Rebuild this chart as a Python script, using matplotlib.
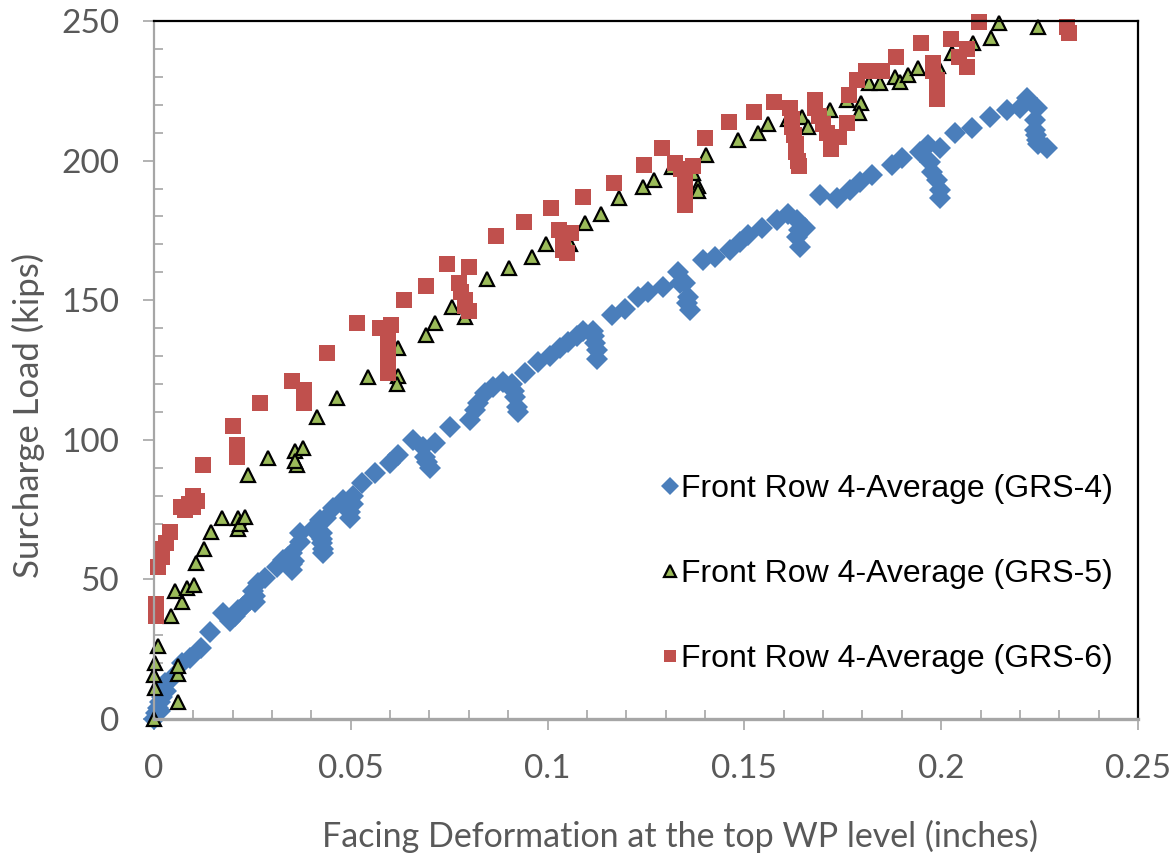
import numpy as np
import matplotlib
matplotlib.use("Agg")
import matplotlib.pyplot as plt
from matplotlib.ticker import MultipleLocator

# -----------------------------------------------------------------------------
# data (deformation in inches, load in kips)

grs4_x = [0.000, 0.0005, 0.001, 0.0015, 0.002, 0.0015, 0.003, 0.0028, 0.0048, 0.0071,
          0.0091, 0.0119, 0.0142, 0.0175, 0.0193, 0.0205, 0.0213, 0.0226, 0.0235, 0.0244,
          0.0252, 0.0258, 0.0258, 0.0264, 0.0282, 0.0313, 0.0328, 0.0340, 0.0351, 0.0351,
          0.0351, 0.0355, 0.0371, 0.0371, 0.0405, 0.0422, 0.0427, 0.0427, 0.0427, 0.0429,
          0.0429, 0.0436, 0.0455, 0.0480, 0.0498, 0.0498, 0.0506, 0.0506, 0.0528, 0.0561,
          0.0600, 0.0620, 0.0658, 0.0683, 0.0689, 0.0695, 0.0701, 0.0714, 0.0752, 0.0803,
          0.0816, 0.0823, 0.0841, 0.0861, 0.0887, 0.0910, 0.0917, 0.0922, 0.0925, 0.0915,
          0.0943, 0.0976, 0.1006, 0.1032, 0.1052, 0.1075, 0.1090, 0.1115, 0.1120, 0.1125,
          0.1125, 0.1118, 0.1164, 0.1197, 0.1230, 0.1255, 0.1293, 0.1331, 0.1336, 0.1349,
          0.1357, 0.1362, 0.1355, 0.1395, 0.1425, 0.1463, 0.1489, 0.1509, 0.1545, 0.1583,
          0.1611, 0.1634, 0.1654, 0.1634, 0.1641, 0.1638, 0.1692, 0.1735, 0.1768, 0.1794,
          0.1824, 0.1875, 0.1900, 0.1946, 0.1966, 0.1997, 0.1972, 0.1977, 0.1989, 0.1997,
          0.1997, 0.2035, 0.2078, 0.2124, 0.2167, 0.2200, 0.2218, 0.2243, 0.2238, 0.2238,
          0.2240, 0.2245, 0.2243, 0.2269]
grs4_y = [0.0, 2.0, 4.0, 6.0, 8.0, 3.0, 10.0, 13.0, 15.0, 20.0,
          22.0, 25.4, 31.0, 38.0, 35.0, 37.0, 39.0, 40.0, 41.0, 42.6,
          46.0, 44.0, 42.0, 48.6, 50.5, 54.4, 57.0, 58.0, 59.5, 55.5,
          53.4, 56.5, 66.6, 63.5, 68.0, 71.3, 66.6, 64.5, 63.0, 61.0,
          59.5, 72.0, 75.6, 78.4, 74.0, 72.0, 77.0, 80.0, 84.5, 88.0,
          91.7, 94.5, 100.0, 97.5, 94.0, 92.0, 90.0, 99.0, 104.6, 107.0,
          110.7, 113.0, 116.8, 119.0, 120.7, 120.0, 115.3, 111.7, 110.0, 117.5,
          124.0, 128.0, 130.0, 133.0, 135.0, 137.0, 139.0, 139.0, 134.7, 132.0,
          129.0, 137.0, 144.7, 147.0, 151.0, 153.0, 154.7, 160.0, 156.0, 156.0,
          151.0, 146.5, 149.0, 164.4, 165.5, 168.0, 171.0, 173.4, 176.0, 178.7,
          181.0, 178.7, 176.0, 172.6, 169.0, 175.0, 187.7, 186.6, 189.5, 192.3,
          194.8, 198.4, 201.0, 203.0, 205.6, 204.5, 199.5, 196.0, 193.0, 189.5,
          186.6, 210.0, 211.7, 215.6, 218.0, 219.0, 222.4, 218.8, 214.5, 211.0,
          209.0, 206.0, 207.4, 204.5]

grs5_x = [0.0000, 0.0003, 0.0000, 0.0003, 0.0010, 0.0060, 0.0060, 0.0060, 0.0043, 0.0071,
          0.0053, 0.0084, 0.0102, 0.0107, 0.0127, 0.0145, 0.0173, 0.0213, 0.0213, 0.0218,
          0.0231, 0.0239, 0.0290, 0.0358, 0.0363, 0.0358, 0.0379, 0.0414, 0.0465, 0.0544,
          0.0620, 0.0620, 0.0617, 0.0691, 0.0714, 0.0757, 0.0790, 0.0846, 0.0902, 0.0960,
          0.0996, 0.1057, 0.1095, 0.1136, 0.1181, 0.1242, 0.1270, 0.1316, 0.1369, 0.1382,
          0.1382, 0.1402, 0.1484, 0.1535, 0.1560, 0.1611, 0.1646, 0.1662, 0.1717, 0.1761,
          0.1796, 0.1791, 0.1817, 0.1845, 0.1883, 0.1895, 0.1916, 0.1941, 0.1992, 0.2027,
          0.2081, 0.2127, 0.2147, 0.2246]
grs5_y = [0.0, 11.0, 15.7, 20.0, 26.0, 6.0, 16.0, 19.0, 37.0, 42.0,
          46.0, 47.0, 48.0, 56.0, 61.0, 67.0, 72.0, 72.0, 68.0, 70.0,
          72.5, 87.4, 93.5, 96.0, 91.0, 92.5, 97.0, 108.0, 115.0, 122.5,
          133.0, 123.0, 120.0, 137.5, 142.0, 147.6, 144.0, 157.6, 161.5, 165.5,
          170.0, 170.0, 177.7, 181.0, 186.6, 190.5, 193.0, 197.7, 195.5, 191.0,
          189.0, 202.0, 207.4, 210.0, 213.0, 215.0, 215.6, 212.0, 218.0, 221.7,
          220.6, 217.0, 227.8, 227.8, 230.0, 228.0, 230.7, 233.0, 234.0, 238.5,
          242.0, 244.0, 249.3, 247.8]

grs6_x = [0.0005, 0.0005, 0.0005, 0.0010, 0.0020, 0.0020, 0.0030, 0.0040, 0.0070, 0.0080,
          0.0090, 0.0100, 0.0100, 0.0110, 0.0125, 0.0200, 0.0210, 0.0210, 0.0210, 0.0270,
          0.0350, 0.0380, 0.0380, 0.0380, 0.0440, 0.0515, 0.0575, 0.0595, 0.0595, 0.0595,
          0.0595, 0.0595, 0.0602, 0.0635, 0.0690, 0.0745, 0.0775, 0.0780, 0.0790, 0.0790,
          0.0800, 0.0800, 0.0870, 0.0940, 0.1010, 0.1030, 0.1040, 0.1040, 0.1040, 0.1050,
          0.1060, 0.1090, 0.1170, 0.1245, 0.1290, 0.1325, 0.1340, 0.1350, 0.1350, 0.1350,
          0.1350, 0.1370, 0.1400, 0.1460, 0.1525, 0.1575, 0.1615, 0.1620, 0.1620, 0.1625,
          0.1630, 0.1630, 0.1635, 0.1640, 0.1680, 0.1680, 0.1690, 0.1700, 0.1710, 0.1720,
          0.1720, 0.1740, 0.1760, 0.1765, 0.1785, 0.1810, 0.1850, 0.1885, 0.1950, 0.1980,
          0.1980, 0.1990, 0.1990, 0.1990, 0.2025, 0.2045, 0.2065, 0.2065, 0.2095, 0.2320,
          0.2325]
grs6_y = [41.0, 39.0, 37.0, 54.5, 58.0, 61.0, 63.0, 67.0, 76.0, 75.0,
          77.0, 80.0, 76.0, 78.0, 91.0, 105.0, 98.0, 96.0, 94.0, 113.0,
          121.0, 118.0, 115.0, 113.0, 131.0, 142.0, 140.0, 136.0, 133.0, 130.0,
          126.0, 124.0, 141.0, 150.0, 155.0, 163.0, 156.0, 153.0, 150.0, 148.0,
          146.0, 162.0, 173.0, 178.0, 183.0, 175.0, 172.0, 170.0, 168.0, 167.0,
          174.0, 187.0, 192.0, 198.5, 204.5, 199.0, 197.0, 193.0, 190.0, 187.0,
          184.0, 198.0, 208.0, 214.0, 217.4, 221.0, 219.0, 215.0, 212.0, 209.0,
          206.0, 203.0, 200.0, 198.0, 221.7, 219.0, 216.0, 213.0, 210.0, 207.0,
          204.0, 208.5, 213.5, 223.5, 229.0, 232.0, 232.0, 237.0, 242.0, 235.0,
          232.0, 229.0, 226.0, 222.0, 243.5, 237.0, 233.5, 240.0, 249.6, 248.0,
          245.7]

labels = ["Front Row 4-Average (GRS-4)",
          "Front Row 4-Average (GRS-5)",
          "Front Row 4-Average (GRS-6)"]
x_ticks = [0, 0.05, 0.1, 0.15, 0.2, 0.25]
x_tick_labels = ["0", "0.05", "0.1", "0.15", "0.2", "0.25"]
y_ticks = [0, 50, 100, 150, 200, 250]
y_tick_labels = ["0", "50", "100", "150", "200", "250"]

# -----------------------------------------------------------------------------
# plot

grey = "#595959"
axis_grey = "#A6A6A6"

fig = plt.figure(figsize=(11.75, 8.61), dpi=100)
ax = fig.add_axes([0.131, 0.165, 0.8375, 0.8106])

ax.plot(grs4_x, grs4_y, linestyle="none", marker="D", markersize=11,
        color="#4A7EBB", markeredgewidth=0, label=labels[0], clip_on=False)
ax.plot(grs5_x, grs5_y, linestyle="none", marker="^", markersize=10.5,
        markerfacecolor="#9BBB59", markeredgecolor="black", markeredgewidth=1.6,
        label=labels[1], clip_on=False)
ax.plot(grs6_x, grs6_y, linestyle="none", marker="s", markersize=11.5,
        color="#C0504D", markeredgewidth=0, label=labels[2], clip_on=False)

ax.set_xlim(0, 0.25)
ax.set_ylim(0, 250)

ax.set_xticks(x_ticks)
ax.set_xticklabels(x_tick_labels)
ax.set_yticks(y_ticks)
ax.set_yticklabels(y_tick_labels)
ax.xaxis.set_minor_locator(MultipleLocator(0.01))
ax.yaxis.set_minor_locator(MultipleLocator(10))

ax.tick_params(which="major", direction="out", length=8, width=1.2,
               color=axis_grey, labelsize=24, labelcolor=grey, pad=17)
ax.tick_params(which="minor", direction="in", length=6.5, width=1.2,
               color=axis_grey)
for lab in ax.get_xticklabels() + ax.get_yticklabels():
    lab.set_family("Lato")

ax.spines["top"].set_color("black")
ax.spines["right"].set_color("black")
ax.spines["top"].set_linewidth(1.6)
ax.spines["right"].set_linewidth(1.6)
ax.spines["left"].set_color(axis_grey)
ax.spines["left"].set_linewidth(1.6)
ax.spines["bottom"].set_color(axis_grey)
ax.spines["bottom"].set_linewidth(2.4)

ax.set_xlabel("Facing Deformation at the top WP level (inches)",
              fontsize=24.5, color=grey, family="Lato")
ax.set_ylabel("Surcharge Load (kips)", fontsize=25, color=grey, family="Lato")
ax.xaxis.set_label_coords(0.535, -0.145)
ax.yaxis.set_label_coords(-0.111, 0.435)

leg = ax.legend(loc="upper left", bbox_to_anchor=(0.515, 0.351), frameon=False,
                prop={"family": "Liberation Sans", "size": 23},
                handlelength=0.6, handletextpad=0.05, labelspacing=1.72,
                borderpad=0, borderaxespad=0, markerscale=0.8)

fig.savefig("out.png", dpi=100)
